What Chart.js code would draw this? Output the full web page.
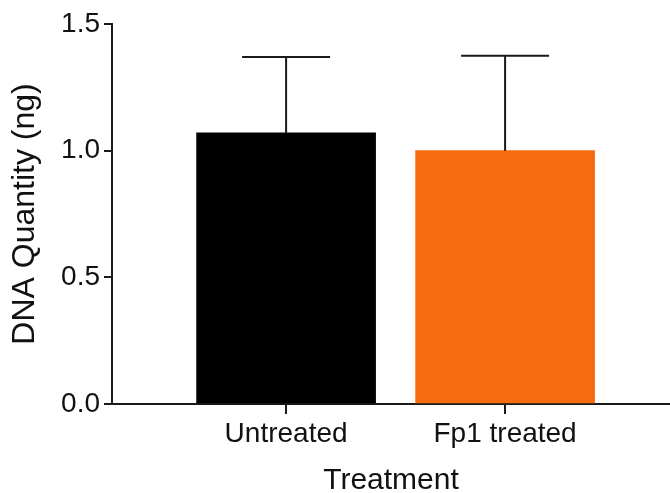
<!DOCTYPE html>
<html>
<head>
<meta charset="utf-8">
<script src="https://cdn.jsdelivr.net/npm/chart.js"></script>
<style>
  html, body { margin: 0; padding: 0; background: #fff; }
  #wrap { width: 670px; height: 493px; }
</style>
</head>
<body>
<div id="wrap"><canvas id="chart" width="670" height="493"></canvas></div>
<script>
// data
const categories = ['Untreated', 'Fp1 treated'];
const positions = [1, 2];
const means = [1.07, 1.0];
const upperErr = [0.30, 0.375];
const barColors = ['#000000', '#f76b0f'];
const yTicks = [0, 0.5, 1.0, 1.5];

const ink = '#1a1a1a';
const font = '"Liberation Sans", Arial, Helvetica, sans-serif';

// draws the upper error whiskers with caps
const errorBars = {
    id: 'errorBars',
    afterDatasetsDraw(chart) {
        const { ctx, scales: { x, y } } = chart;
        ctx.save();
        ctx.strokeStyle = ink;
        ctx.lineWidth = 2;
        positions.forEach((p, i) => {
            const px = x.getPixelForValue(p);
            const yTop = y.getPixelForValue(means[i]);
            const yCap = y.getPixelForValue(means[i] + upperErr[i]);
            ctx.beginPath();
            ctx.moveTo(px, yTop);
            ctx.lineTo(px, yCap);
            ctx.moveTo(px - 44, yCap);
            ctx.lineTo(px + 44, yCap);
            ctx.stroke();
        });
        ctx.restore();
    }
};

const ctx = document.getElementById('chart').getContext('2d');
new Chart(ctx, {
    type: 'bar',
    data: {
        datasets: [{
            data: positions.map((p, i) => ({ x: p, y: means[i] })),
            backgroundColor: barColors,
            borderWidth: 0,
            barThickness: 179
        }]
    },
    options: {
        responsive: false,
        animation: false,
        devicePixelRatio: 1,
        layout: { padding: { top: 24, right: 0, bottom: 0, left: 0 } },
        plugins: { legend: { display: false }, tooltip: { enabled: false } },
        scales: {
            x: {
                type: 'linear',
                offset: false,
                min: 0.205,
                max: 2.753,
                afterBuildTicks: (axis) => { axis.ticks = positions.map(v => ({ value: v })); },
                afterFit: (scale) => { scale.height = 89; },
                grid: { display: true, offset: false, drawOnChartArea: false, drawTicks: true, tickLength: 10, color: ink, lineWidth: 2 },
                border: { display: true, color: ink, width: 2 },
                ticks: {
                    color: '#111',
                    font: { family: font, size: 28 },
                    padding: 3,
                    maxRotation: 0,
                    callback: (v) => categories[positions.indexOf(v)] || ''
                },
                title: {
                    display: true,
                    text: 'Treatment',
                    color: '#111',
                    font: { family: font, size: 30, lineHeight: 0.8 },
                    padding: { top: 0, bottom: 0 }
                }
            },
            y: {
                min: 0,
                max: 1.5,
                afterBuildTicks: (axis) => { axis.ticks = yTicks.map(v => ({ value: v })); },
                afterFit: (scale) => { scale.width = 112; },
                grid: { display: true, drawOnChartArea: false, drawTicks: true, tickLength: 8, color: ink, lineWidth: 2 },
                border: { display: true, color: ink, width: 2 },
                ticks: {
                    color: '#111',
                    font: { family: font, size: 28 },
                    padding: 4,
                    callback: (v) => v.toFixed(1)
                },
                title: {
                    display: true,
                    text: 'DNA Quantity (ng)',
                    color: '#111',
                    font: { family: font, size: 32, lineHeight: 1.2 },
                    padding: { top: 6, bottom: 0 }
                }
            }
        }
    },
    plugins: [errorBars]
});
</script>
</body>
</html>
